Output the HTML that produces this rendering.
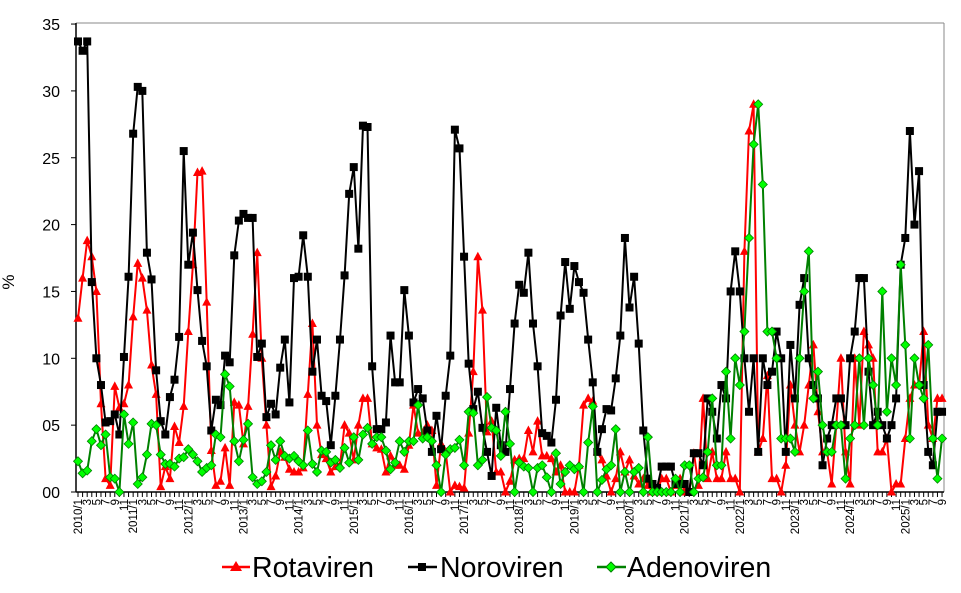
<!DOCTYPE html>
<html><head><meta charset="utf-8">
<style>
html,body{margin:0;padding:0;background:#fff;}
svg{display:block;font-family:"Liberation Sans",Arial,sans-serif;}
</style></head>
<body>
<svg id="c" width="961" height="593" viewBox="0 0 961 593" xmlns="http://www.w3.org/2000/svg">
<rect width="961" height="593" fill="#fff"/>
<g id="axes"></g>
<g id="series"></g>
<text x="14" y="282" font-size="17" text-anchor="middle" transform="rotate(-90 14 282)">%</text>
<g font-size="28.5">
  <line x1="222" y1="567" x2="250" y2="567" stroke="#ff0000" stroke-width="2.5"/>
  <polygon points="236,561 242,571 230,571" fill="#ff0000"/>
  <text x="252" y="577">Rotaviren</text>
  <line x1="408" y1="567" x2="437" y2="567" stroke="#000" stroke-width="2.5"/>
  <rect x="418" y="563" width="8" height="8" fill="#000"/>
  <text x="440" y="577">Noroviren</text>
  <line x1="597" y1="567" x2="626" y2="567" stroke="#008000" stroke-width="2.5"/>
  <polygon points="611,562 616,567 611,572 606,567" fill="#00ff00" stroke="#008000" stroke-width="1"/>
  <text x="627" y="577">Adenoviren</text>
</g>
</svg>
<script>
var rota=[13,16,18.8,17.6,15,6.6,1,0.5,7.9,6.3,6.6,8,13.1,17.1,16,13.6,9.5,7.3,0.4,1.9,1,4.9,3.7,6.4,12,17,23.9,24,14.2,3.1,0.5,
0.8,3.3,0.5,6.7,6.5,3.6,6.4,11.8,17.9,10,5,0.4,1.2,3,2.6,1.7,1.5,1.5,1.8,7.3,12.6,5,2.8,2.5,1.5,1.9,2,5,4.4,
2.4,5,7,7,3.6,3.3,3.2,1.5,2.7,2,2,1.7,3.5,6.5,4.4,4.4,5,4.6,0.5,3.6,3,0,0.5,0.4,0.3,4.4,9,17.6,13.6,4.5,5.3,1.5,
1.5,0,0.8,2.4,2.5,2.5,4.6,3,5.3,2.7,2.7,2.5,1.5,2,0,0,0,2,6.5,7,6.8,3,2.4,1.2,0,1,3,1.5,2.4,1.2,0.6,1,
0.5,0,0,1,1,0,0.5,1,0,0,2.9,0.5,7,1,3,1,1,3,1,1,0,18,27,29,3,4,8.7,1,1,0,2,8,
5,3,5,8,11,6,3,3,0.6,5,10,3,0.6,10,5,12,11,10,3,3,4,0,0.6,0.6,4,7,8,8,12,5,4,7,7];
var noro=[33.7,33,33.7,15.7,10,8,5.2,5.3,5.8,4.3,10.1,16.1,
26.8,30.3,30,17.9,15.9,9.1,5.3,4.3,7.1,8.4,11.6,25.5,
17,19.4,15.1,11.3,9.4,4.6,6.9,6.5,10.2,9.7,17.7,20.3,
20.8,20.5,20.5,10.1,11.1,5.6,6.6,5.8,9.3,11.4,6.7,16,
16.1,19.2,16.1,9,11.4,7.2,6.8,3.5,7.2,11.4,16.2,22.3,
24.3,18.2,27.4,27.3,9.4,4.7,4.7,5.2,11.7,8.2,8.2,15.1,
11.7,6.7,7.7,7,4.6,3,5.7,3.2,7.2,10.2,27.1,25.7,
17.6,9.6,6.2,7.5,4.8,3,1.2,6.3,3.5,3,7.7,12.6,
15.5,14.9,17.9,12.6,9.4,4.4,4.2,3.7,6.9,13.2,17.2,13.7,
16.9,15.7,14.9,11.4,8.2,3,4.7,6.2,6.1,8.5,11.7,19,
13.8,16.1,11.1,4.6,1,0.6,0.3,1.9,1.9,1.9,0.6,0.6,
0.6,0,2.9,2.9,2,7,6,4,8,7,15,18,
15,10,6,10,3,10,8,9,12,10,3,11,
7,14,16,10,8,7,2,4,5,7,7,5,
10,12,16,16,9,5,6,5,4,5,7,17,
19,27,20,24,8,3,2,6,6];
var adeno=[2.3,1.4,1.6,3.8,4.7,3.5,4.3,1.1,1,0,5.8,3.6,5.2,0.6,1.1,2.8,5.1,5,2.8,2.1,2.1,1.9,2.5,2.6,3.2,2.8,2.3,1.5,1.8,2,4.3,
4.1,8.8,7.9,3.8,2.3,3.9,5.1,1.1,0.6,0.8,1.5,3.5,2.4,3.8,2.7,2.5,2.7,2.3,2,4.6,2.1,1.5,3.1,3,2.2,2.4,1.8,3.3,2.2,
4.1,2.4,4.3,4.8,3.6,4.1,4.1,3.1,1.7,2.2,3.8,3,3.8,3.8,6.5,4,4.1,3.8,2,0,2.8,3.2,3.3,3.9,2,6,5.9,2,2.4,7.1,4.8,4.6,
2.7,6,3.6,0,2.2,1.9,1.8,0,1.8,2,1.1,0,2.9,0.6,1.5,2,1.7,1.9,0,3.7,6.4,0,0.9,1.7,2,4.7,0,1.5,0,1.5,1.8,0,
4.1,0,0,0,0,0,1,0,2,2,0,1,1.1,3,7,2,2,9,4,10,8,12,19,26,29,23,12,12,10,4,4,4,
3,10,15,18,7,9,5,3,3,5,5,1,4,5,10,5,10,8,5,15,6,10,8,17,11,4,10,8,7,11,4,1,4];
var NS="http://www.w3.org/2000/svg";
function el(t,a,p){var e=document.createElementNS(NS,t);for(var k in a)e.setAttribute(k,a[k]);(p||document.getElementById('series')).appendChild(e);return e;}
function X(i){return 78+4.596*i;}
function Y(v){return 492-13.37*v;}
var ax=document.getElementById('axes');
el('line',{x1:76,y1:23,x2:944,y2:23,stroke:'#888','stroke-width':1},ax);
el('line',{x1:944,y1:23,x2:944,y2:492,stroke:'#888','stroke-width':1},ax);
el('line',{x1:76,y1:23,x2:76,y2:492,stroke:'#000','stroke-width':1.5},ax);
el('line',{x1:76,y1:492,x2:944,y2:492,stroke:'#000','stroke-width':1.5},ax);
var yl=['00','05','10','15','20','25','30','35'];
for(var k=0;k<8;k++){var y=Y(k*5);
 el('line',{x1:71,y1:y,x2:76,y2:y,stroke:'#000','stroke-width':1},ax);
 var t=el('text',{x:60,y:y+6,'font-size':16,'text-anchor':'end'},ax);t.textContent=yl[k];}
for(var i=0;i<189;i++){var x=X(i);
 el('line',{x1:x,y1:492,x2:x,y2:497,stroke:'#000','stroke-width':1},ax);
 if(i%2==0){var m=i%12+1;var lab=(m==1)?((2010+Math.floor(i/12))+'/1'):(''+m);
  var t=el('text',{x:x+4,y:499,'font-size':11.5,'text-anchor':'end',transform:'rotate(-90 '+(x+4)+' 499)'},ax);t.textContent=lab;}}
function line(d,c){var p=d.map(function(v,i){return X(i).toFixed(1)+','+Y(v).toFixed(1);}).join(' ');
 el('polyline',{points:p,fill:'none',stroke:c,'stroke-width':2,'stroke-linejoin':'round'});}
line(rota,'#ff0000');
rota.forEach(function(v,i){var x=X(i),y=Y(v);el('polygon',{points:x+','+(y-5)+' '+(x+4.5)+','+(y+3.5)+' '+(x-4.5)+','+(y+3.5),fill:'#ff0000'});});
line(noro,'#000');
noro.forEach(function(v,i){var x=X(i),y=Y(v);el('rect',{x:x-4,y:y-4,width:8,height:8,fill:'#000'});});
line(adeno,'#008000');
adeno.forEach(function(v,i){var x=X(i),y=Y(v);el('polygon',{points:x+','+(y-4.5)+' '+(x+4.5)+','+y+' '+x+','+(y+4.5)+' '+(x-4.5)+','+y,fill:'#00ff00',stroke:'#008000','stroke-width':0.8});});
</script>
</body></html>
